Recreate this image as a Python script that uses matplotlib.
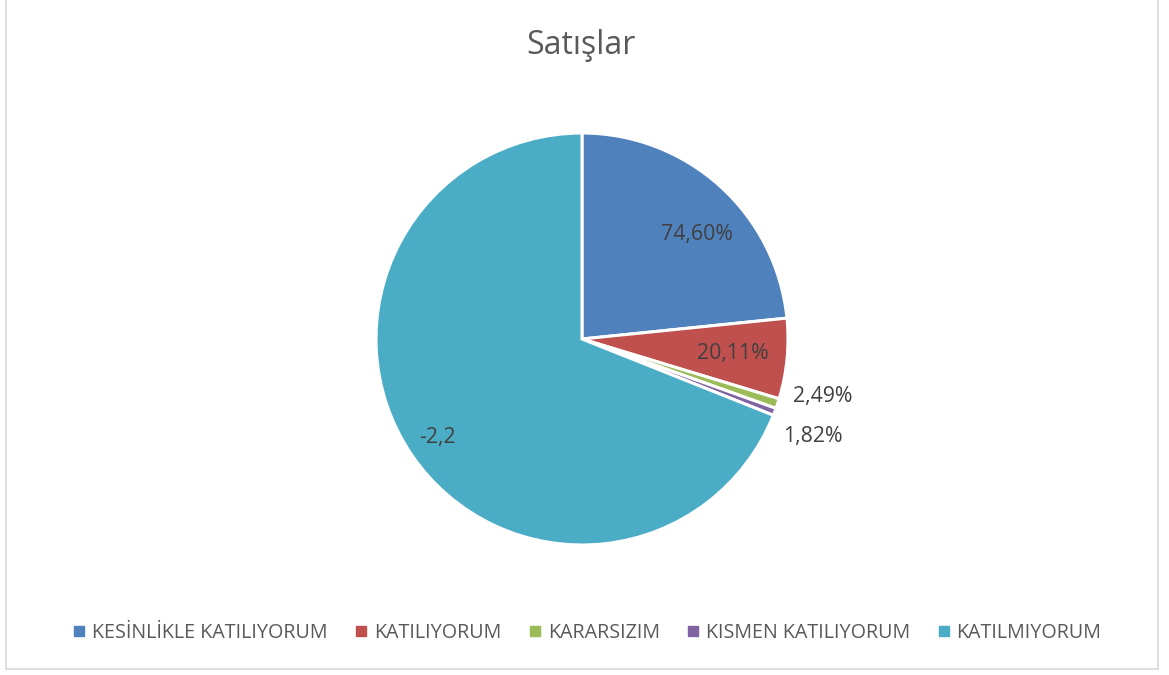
import numpy as np
import matplotlib
matplotlib.use("Agg")
import matplotlib.pyplot as plt
from matplotlib.lines import Line2D

# ---- data ----
categories = ["KESİNLİKLE KATILIYORUM", "KATILIYORUM", "KARARSIZIM", "KISMEN KATILIYORUM", "KATILMIYORUM"]
values = [0.746, 0.2011, 0.0249, 0.0182, -2.2]
value_labels = ["74,60%", "20,11%", "2,49%", "1,82%", "-2,2"]
title = "Satışlar"

# ---- style ----
colors = ["#4F81BD", "#C0504D", "#9BBB59", "#8064A2", "#4BACC6"]
text_color = "#595959"
label_color = "#404040"
font = ["Open Sans", "DejaVu Sans"]
plt.rcParams['font.family'] = font

W, H = 1169, 675
fig = plt.figure(figsize=(W / 100, H / 100), dpi=100)
fig.patch.set_facecolor("white")

cx, cy, R = 582, 339, 206
ax = fig.add_axes([(cx - R) / W, (H - cy - R) / H, 2 * R / W, 2 * R / H])
sizes = np.abs(values)
wedges, _ = ax.pie(sizes, colors=colors, startangle=90, counterclock=False,
                   radius=1.0, wedgeprops=dict(edgecolor="white", linewidth=2.2))
ax.set_xlim(-1, 1)
ax.set_ylim(-1, 1)
ax.set_aspect("auto")
ax.axis("off")

# label placement (style)
label_r = [0.755, 0.737, 1.08, 1.045, 0.85]
label_dx = [0.053, 0.0, 0.0, 0.0, 0.0]
label_dy = [-0.051, 0.0, 0.06, -0.105, 0.0]
label_ha = ["center", "center", "left", "left", "center"]
for w, lab, r, dx, dy, ha in zip(wedges, value_labels, label_r, label_dx, label_dy, label_ha):
    mid = np.deg2rad((w.theta1 + w.theta2) / 2)
    x = r * np.cos(mid) + dx
    y = r * np.sin(mid) + dy
    ax.text(x, y, lab, ha=ha, va="center", fontsize=15.3, color=label_color)

fig.text(581 / W, 1 - 45 / H, title, ha="center", va="center", fontsize=23, color=text_color)

handles = [Line2D([0], [0], marker="s", linestyle="none", markersize=6.5,
                  markerfacecolor=c, markeredgecolor=c) for c in colors]
fig.legend(handles, categories, loc="center", bbox_to_anchor=(587 / W, 1 - 633 / H),
           ncol=5, frameon=False, fontsize=14.2, labelcolor=text_color,
           handlelength=0.7, handletextpad=0.3, columnspacing=1.35)

# border
bc = "#D9D9D9"
x0, x1, yb = 6 / W, 1158 / W, 1 - 669 / H
fig.add_artist(Line2D([x0, x0], [yb, 1.0], color=bc, lw=1.2, transform=fig.transFigure))
fig.add_artist(Line2D([x1, x1], [yb, 1.0], color=bc, lw=1.2, transform=fig.transFigure))
fig.add_artist(Line2D([x0, x1], [yb, yb], color=bc, lw=1.2, transform=fig.transFigure))

fig.savefig("out.png", dpi=100)
